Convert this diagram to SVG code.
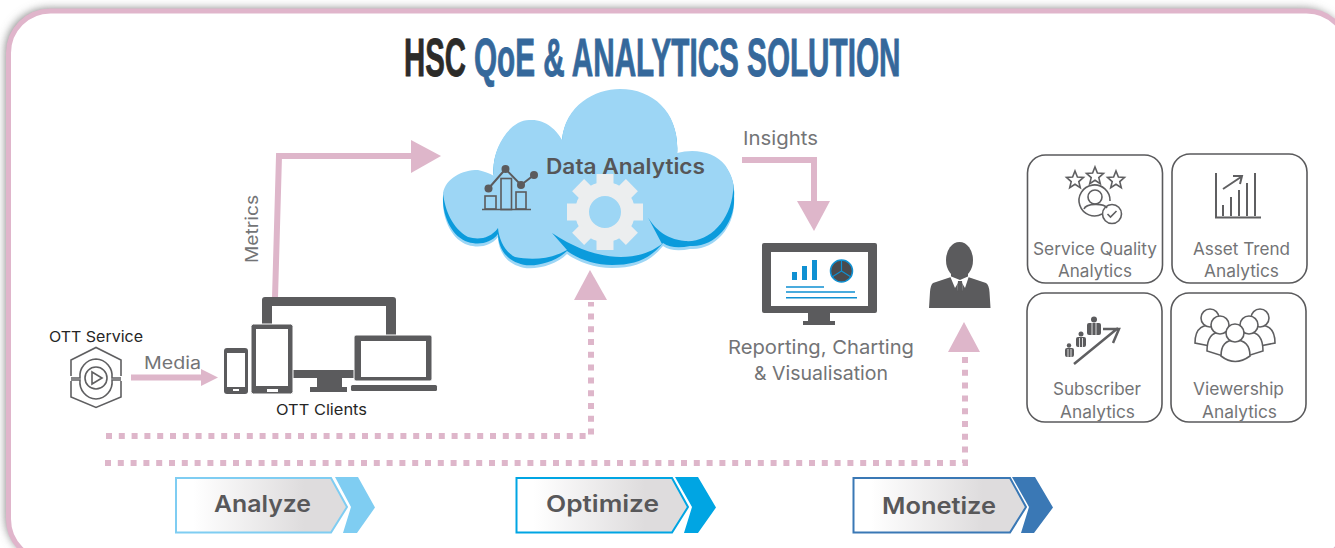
<svg xmlns="http://www.w3.org/2000/svg" xmlns:xlink="http://www.w3.org/1999/xlink" width="1335" height="548" viewBox="0 0 1335 548">
<style>
text{font-family:"Inter","Liberation Sans",sans-serif}
.t{font-family:"Liberation Sans",sans-serif;font-weight:700;font-size:53px;stroke-width:.9}
.g{fill:#737476;font-size:17px}
.d{fill:#5b5b5d}
.pk{fill:none;stroke:#deb6ca;stroke-width:6}
.dot{fill:none;stroke:#deb6ca;stroke-width:6;stroke-dasharray:6 6.8}
.pf{fill:#deb6ca}
.card{fill:#fff;stroke:#5a5a5c;stroke-width:1.6}
.ic{fill:none;stroke:#5f5f61;stroke-width:1.6}
.lab{fill:#58585a;font-weight:600;font-size:23px}
.blue{fill:#0f90d2}
</style>
<defs>
<filter id="sh" x="-5%" y="-10%" width="110%" height="120%"><feGaussianBlur stdDeviation="5"/></filter>
<linearGradient id="gr"><stop offset="0.1" stop-color="#fff"/><stop offset="0.75" stop-color="#dedcdd"/></linearGradient>
<path id="star" d="M0,-9L2.400,-3L8.500,-2.600L3.800,1.600L5.300,7.700L0,4.300L-5.300,7.700L-3.800,1.600L-8.500,-2.600L-2.400,-3Z"/>
<path id="cl" d="M443,195C446,178 462,170 478,170C486,172 491,174 494,176C490,150 510,119 530,120C545,119 557,130 562,140C565,105 595,89 620,89C655,89 680,115 677,153C695,148 715,152 725,165C732,175 735,185 734,195C736,222 715,247 690,245C680,247 670,247 663,242C650,258 635,264 612,264C595,264 578,258 567,250C555,262 530,268 518,262C505,258 498,245 498,233C490,243 478,244 468,241C452,236 442,215 443,195Z"/>
</defs>
<rect width="1335" height="548" fill="#fff"/>
<rect x="6" y="9" width="1340" height="550" rx="42" fill="#7c7c7c" filter="url(#sh)"/>
<rect id="frame" x="8.500" y="11" width="1340" height="550" rx="42" fill="#fff" stroke="#e0b5cb" stroke-width="5"/>
<g id="title"><text class="t" transform="translate(404,76) scale(.554,1)" fill="#2c2b29" stroke="#2c2b29">HSC</text><text class="t" transform="translate(474,76) scale(.56,1)" fill="#35689b" stroke="#35689b">QoE &amp; ANALYTICS SOLUTION</text></g>

<g id="connectors">
<path class="pk" d="M275,298L279,156H413"/><polygon class="pf" points="411,140 441,156 411,173"/>
<path class="pk" d="M131,377.500H202"/><polygon class="pf" points="201,369 218,377.500 201,386"/>
<path class="pk" d="M742,160H814V202"/><polygon class="pf" points="797,201 830,201 814,231"/>
<path class="dot" d="M106,436H591V302"/><polygon class="pf" points="574,300 607,300 590,270"/>
<path class="dot" d="M105,463H965V354"/><polygon class="pf" points="948,352 980,352 964,322"/>
<text class="g" x="144" y="369" textLength="57" lengthAdjust="spacingAndGlyphs">Media</text>
<text class="g" x="743" y="145" textLength="75" lengthAdjust="spacingAndGlyphs" style="font-size:18.500px">Insights</text>
<text class="g" transform="translate(258,263) rotate(-90)" textLength="68" lengthAdjust="spacingAndGlyphs">Metrics</text>
</g>

<g id="cloud">
<use xlink:href="#cl" href="#cl" fill="#9dd6f5" transform="translate(0,4)"/>
<use xlink:href="#cl" href="#cl" fill="#0b9bdc" transform="translate(0,1)"/>
<path fill="#9dd6f5" d="M443,193C446,178 462,170 478,170C486,172 491,174 494,176C490,150 510,119 530,120C545,119 557,130 562,140C565,105 595,89 620,89C655,89 680,115 677,153C695,148 715,152 725,165C732,175 735,185 733,192C730,222 708,243 685,241C665,239 652,228 643,208L662,244C640,261 600,265 552,233L567,250C550,260 530,260 515,257C505,252 499,240 498,228C490,239 478,240 468,237C452,228 445,210 443,193Z"/>
<text x="546" y="174" textLength="159" lengthAdjust="spacingAndGlyphs" style="font-weight:600;font-size:21px;fill:#565658">Data Analytics</text>
<g fill="#eceeef" transform="translate(605,212)">
<path fill-rule="evenodd" d="M-30,0A30,30 0 1 1 30,0A30,30 0 1 1 -30,0ZM-16,0A16,16 0 1 0 16,0A16,16 0 1 0 -16,0Z"/>
<g id="teeth"><rect x="-8.500" y="-38" width="17" height="12"/><rect x="-8.500" y="26" width="17" height="12"/><rect x="-38" y="-8.500" width="12" height="17"/><rect x="26" y="-8.500" width="12" height="17"/></g>
<use xlink:href="#teeth" href="#teeth" transform="rotate(45)"/>
</g>
<g fill="none" stroke="#5b5b5d" stroke-width="1.600"><path d="M482,209.500H531"/><rect x="485" y="196" width="11" height="13"/><rect x="501" y="178.500" width="10.500" height="31"/><rect x="516" y="192" width="10" height="17"/><path d="M488.500,188.500L505.500,169L521,185L534,175" stroke-width="2"/></g>
<g class="d"><circle cx="488.500" cy="188.500" r="4"/><circle cx="505.500" cy="169" r="4"/><circle cx="521" cy="185" r="4"/><circle cx="534" cy="175" r="4"/></g>
</g>

<g id="ott-service">
<text x="49" y="342" textLength="94" lengthAdjust="spacingAndGlyphs" style="font-size:15px;fill:#262626">OTT Service</text>
<g class="ic"><path d="M71,376V360L96,347.500L121,360V376M71,381V397L96,407.500L121,397V381"/><path d="M71,378H80A17,17 0 0 1 96,359A17,17 0 0 1 112,378H121M71,380H80A17,17 0 0 0 96,399A17,17 0 0 0 112,380H121"/><circle cx="96" cy="378" r="11"/><path d="M92,372L102,378L92,384Z"/></g>
</g>

<g id="ott-clients">
<path class="d" d="M262,300a3,3 0 0 1 3,-3H393a3,3 0 0 1 3,3V378H342V387H347V392H310V387H317V378H262Z"/>
<rect x="272" y="306" width="114" height="64" fill="#fff"/>
<rect x="251" y="324" width="42" height="70" rx="2.500" class="d" stroke="#fff"/>
<rect x="256" y="329" width="32" height="57" fill="#fff"/><rect x="267" y="389" width="11" height="3" fill="#fff"/>
<rect x="224" y="348" width="24" height="46" rx="3" class="d"/>
<rect x="227" y="353" width="18" height="34" fill="#fff"/><rect x="233" y="389" width="6" height="2" fill="#fff"/>
<rect x="354" y="335" width="78" height="46" rx="2" class="d" stroke="#fff"/>
<rect x="361" y="341" width="65" height="36" fill="#fff"/>
<rect x="351" y="385" width="86" height="6" rx="1.500" class="d"/>
<text x="276" y="415" textLength="91" lengthAdjust="spacingAndGlyphs" style="font-size:15px;fill:#262626">OTT Clients</text>
</g>

<g id="reporting">
<rect x="762" y="243" width="115" height="70" rx="2" class="d"/><rect x="771" y="252" width="97" height="54" fill="#fff"/>
<rect x="808" y="313" width="22" height="9" class="d"/><rect x="803" y="321" width="32" height="4" class="d"/>
<rect class="blue" x="792" y="272" width="5" height="8"/><rect class="blue" x="802" y="266" width="5" height="14"/><rect class="blue" x="812" y="260" width="5" height="20"/>
<circle cx="841.500" cy="271" r="11" fill="#4a4a4e" stroke="#0f90d2" stroke-width="1.500"/>
<path d="M841.500,260V271L832,277M841.500,271L851,277" fill="none" stroke="#0f90d2" stroke-width="1.200"/>
<path d="M786,287H824M786,292H855M786,297.700H857" fill="none" stroke="#0f90d2" stroke-width="1.500"/>
<text class="g" x="728" y="354" textLength="186" lengthAdjust="spacingAndGlyphs" style="font-size:19px">Reporting, Charting</text>
<text class="g" x="754" y="380" textLength="134" lengthAdjust="spacingAndGlyphs" style="font-size:19px">&amp; Visualisation</text>
</g>

<g id="user">
<ellipse cx="959.500" cy="260" rx="13.500" ry="18" class="d"/>
<path class="d" d="M951,272H968V277L986,283Q989,285 989.500,292L990.500,308H929L930,292Q930.500,285 933,283L951,277Z"/>
<path d="M950,276L960,280L969,276L965,288L962,283L963,291L957,291L958,283L955,288Z" fill="#fff"/>
<path d="M958,281H962L963,291L960,292L957,291Z" class="d"/>
</g>

<g id="service-quality">
<rect class="card" x="1027.500" y="155" width="135" height="128" rx="18"/>
<g class="ic"><use xlink:href="#star" href="#star" x="1075" y="180"/><use xlink:href="#star" href="#star" x="1095" y="176"/><use xlink:href="#star" href="#star" x="1116" y="180"/>
<path d="M1102,214A15.500,15.500 0 1 1 1110,201"/><circle cx="1095" cy="197" r="7"/><path d="M1084,209C1086,203 1104,203 1107,208"/><circle cx="1112" cy="214" r="9.500"/><path d="M1107.500,214L1110.500,217L1116.500,211"/></g>
<text class="g" x="1033" y="255" textLength="124" lengthAdjust="spacingAndGlyphs">Service Quality</text><text class="g" x="1058" y="277" textLength="74" lengthAdjust="spacingAndGlyphs">Analytics</text>
</g>
<g id="asset-trend">
<rect class="card" x="1172" y="154" width="135" height="129" rx="18"/>
<path d="M1216,173V217.500H1261M1223,216V205M1231,216V197M1239,216V190M1247,216V183M1255,216V173" fill="none" stroke="#5f5f61" stroke-width="2"/>
<path d="M1223,189L1241,177M1233,176H1242L1240,184" fill="none" stroke="#5f5f61" stroke-width="2"/>
<text class="g" x="1193" y="255" textLength="97" lengthAdjust="spacingAndGlyphs">Asset Trend</text><text class="g" x="1204" y="277" textLength="75" lengthAdjust="spacingAndGlyphs">Analytics</text>
</g>
<g id="subscriber">
<rect class="card" x="1027" y="293" width="135" height="129" rx="18"/>
<path d="M1074,364L1118,328M1103,329H1119L1113,343" fill="none" stroke="#5f5f61" stroke-width="2.500"/>
<g class="d"><circle cx="1094" cy="319.500" r="3"/><rect x="1087" y="323" width="14" height="12" rx="2"/><circle cx="1081" cy="334" r="2.500"/><rect x="1076" y="337" width="10" height="10" rx="2"/><circle cx="1069" cy="345.500" r="2.200"/><rect x="1065" y="348" width="9" height="9" rx="2"/></g>
<path d="M1092,323V335M1096,323V335M1079.500,338V347M1082.500,338V347M1068,349V357M1071,349V357" stroke="#fff" fill="none" stroke-width=".8"/>
<text class="g" x="1053" y="395" textLength="88" lengthAdjust="spacingAndGlyphs">Subscriber</text><text class="g" x="1060" y="418" textLength="75" lengthAdjust="spacingAndGlyphs">Analytics</text>
</g>
<g id="viewership">
<rect class="card" x="1171" y="293" width="135" height="129" rx="18"/>
<g fill="#fff" stroke="#5f5f61" stroke-width="1.600">
<path d="M1195,343C1195,326 1205,325 1212,325C1222,325 1228,332 1228,344L1210,346Z"/><path d="M1275,343C1275,326 1265,325 1258,325C1248,325 1242,332 1242,344L1260,346Z"/>
<circle cx="1210" cy="318" r="9"/><circle cx="1260" cy="318" r="9"/>
<path d="M1207,351C1207,336 1213,332 1221,332C1232,332 1240,342 1240,352L1226,357Z"/><path d="M1263,351C1263,336 1257,332 1249,332C1238,332 1230,342 1230,352L1244,357Z"/>
<circle cx="1220" cy="325" r="9"/><circle cx="1249" cy="325" r="9"/>
<path d="M1221,356C1221,344 1227,340 1235,340C1243,340 1250,344 1250,356Q1235,367 1221,356Z"/><circle cx="1235" cy="333" r="9"/>
</g>
<text class="g" x="1193" y="395" textLength="91" lengthAdjust="spacingAndGlyphs">Viewership</text><text class="g" x="1202" y="418" textLength="75" lengthAdjust="spacingAndGlyphs">Analytics</text>
</g>

<g id="analyze"><path d="M176,478H331L347,507L331,532.500H176Z" fill="url(#gr)" stroke="#7fcdf2" stroke-width="2"/><path d="M335,477H358L375,507.500L357,533H343L351,507Z" fill="#7fcdf2"/><text class="lab" x="214" y="512" textLength="97" lengthAdjust="spacingAndGlyphs">Analyze</text></g>
<g id="optimize"><path d="M516.500,478H672L688,507L672,532.500H516.500Z" fill="url(#gr)" stroke="#00a5e3" stroke-width="2"/><path d="M675,477H698L716,507.500L698,533H684L692,507Z" fill="#00a5e3"/><text class="lab" x="546" y="512" textLength="113" lengthAdjust="spacingAndGlyphs">Optimize</text></g>
<g id="monetize"><path d="M853.500,478H1010L1026,507L1010,532.500H853.500Z" fill="url(#gr)" stroke="#3a78b5" stroke-width="2"/><path d="M1012,477H1035L1053,507.500L1034,533H1021L1029,507Z" fill="#3a78b5"/><text class="lab" x="882" y="514" textLength="114" lengthAdjust="spacingAndGlyphs">Monetize</text></g>
</svg>
